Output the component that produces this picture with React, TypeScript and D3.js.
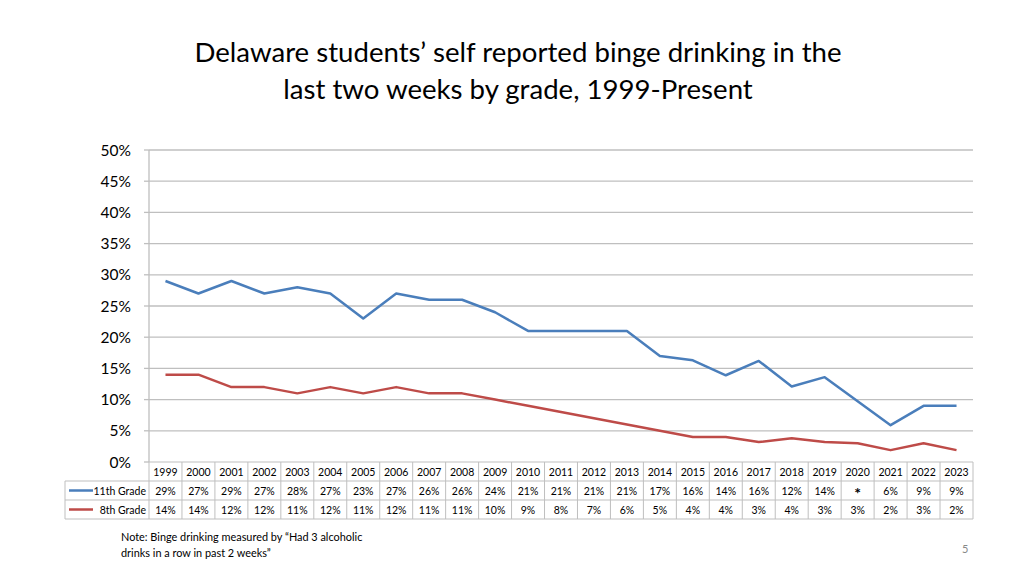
import React from "react";
import * as d3 from "d3";

const years = ["1999","2000","2001","2002","2003","2004","2005","2006","2007","2008","2009","2010","2011","2012","2013","2014","2015","2016","2017","2018","2019","2020","2021","2022","2023"];
const grade11 = [29,27,29,27,28,27,23,27,26,26,24,21,21,21,21,17,16.3,13.9,16.2,12.1,13.6,null,5.9,9,9];
const grade8 = [14,14,12,12,11,12,11,12,11,11,10,9,8,7,6,5,4,4,3.2,3.8,3.2,3,1.9,3,1.9];
const grade11Labels = ["29%","27%","29%","27%","28%","27%","23%","27%","26%","26%","24%","21%","21%","21%","21%","17%","16%","14%","16%","12%","14%","*","6%","9%","9%"];
const grade8Labels = ["14%","14%","12%","12%","11%","12%","11%","12%","11%","11%","10%","9%","8%","7%","6%","5%","4%","4%","3%","4%","3%","3%","2%","3%","2%"];
const yTicks = [0,5,10,15,20,25,30,35,40,45,50];
const seriesNames = ["11th Grade","8th Grade"];
const seriesColors = ["#4a7ebb","#be4b48"];

const W = 1024, H = 576;
const FONT = "Lato, 'Open Sans', sans-serif";

export default function App() {
  const left = 149, right = 973, top = 150, bottom = 462;
  const x = d3.scaleBand<string>().domain(years).range([left, right]);
  const y = d3.scaleLinear().domain([0, 50]).range([bottom, top]);
  const cx = (yr: string) => (x(yr) as number) + x.bandwidth() / 2;

  const line = d3.line<[string, number | null]>()
    .x(d => cx(d[0]))
    .y(d => y(d[1] as number));
  const pts11 = years.map((yr, i) => [yr, grade11[i]] as [string, number | null]).filter(d => d[1] !== null);
  const pts8 = years.map((yr, i) => [yr, grade8[i]] as [string, number | null]);

  const rowH = 19;
  const tTop = bottom;
  const legendLeft = 65;
  const gridColor = "#bfbfbf";
  const tableColor = "#bfbfbf";

  const rows = [grade11Labels, grade8Labels];

  return (
    <svg width={W} height={H} style={{ position: "absolute", left: 0, top: 0, background: "#fff" }} fontFamily={FONT}>
      <rect x={0} y={0} width={W} height={H} fill="#fff" />
      <text x={518} y={62} textAnchor="middle" fontSize={27.6} fill="#000">Delaware students’ self reported binge drinking in the</text>
      <text x={518} y={99} textAnchor="middle" fontSize={27.6} fill="#000">last two weeks by grade, 1999-Present</text>

      {yTicks.map(t => (
        <g key={t}>
          {t > 0 && <line x1={left} x2={right} y1={y(t)} y2={y(t)} stroke={gridColor} strokeWidth={1.3} />}
          <line x1={left - 5} x2={left} y1={y(t)} y2={y(t)} stroke={gridColor} strokeWidth={1.3} />
          <text x={131} y={y(t) + 5.5} textAnchor="end" fontSize={15.5} fill="#000">{t}%</text>
        </g>
      ))}
      <line x1={left} x2={left} y1={top} y2={bottom} stroke={gridColor} strokeWidth={1.3} />

      <path d={line(pts11) || ""} fill="none" stroke={seriesColors[0]} strokeWidth={2.5} strokeLinejoin="round" />
      <path d={line(pts8) || ""} fill="none" stroke={seriesColors[1]} strokeWidth={2.5} strokeLinejoin="round" />

      <g>
        <line x1={left} x2={right} y1={tTop} y2={tTop} stroke={tableColor} />
        <line x1={legendLeft} x2={right} y1={tTop + rowH} y2={tTop + rowH} stroke={tableColor} />
        <line x1={legendLeft} x2={right} y1={tTop + 2 * rowH} y2={tTop + 2 * rowH} stroke={tableColor} />
        <line x1={legendLeft} x2={right} y1={tTop + 3 * rowH} y2={tTop + 3 * rowH} stroke={tableColor} />
        <line x1={legendLeft} x2={legendLeft} y1={tTop + rowH} y2={tTop + 3 * rowH} stroke={tableColor} />
        {years.map(yr => (
          <line key={"v" + yr} x1={x(yr) as number} x2={x(yr) as number} y1={tTop} y2={tTop + 3 * rowH} stroke={tableColor} />
        ))}
        <line x1={right} x2={right} y1={tTop} y2={tTop + 3 * rowH} stroke={tableColor} />
        {years.map(yr => (
          <text key={"y" + yr} x={cx(yr)} y={tTop + 13.5} textAnchor="middle" fontSize={10.5} fill="#000">{yr}</text>
        ))}
        {rows.map((r, ri) => (
          <g key={"r" + ri}>
            <line x1={legendLeft + 4} x2={legendLeft + 28} y1={tTop + rowH * (ri + 1) + rowH / 2} y2={tTop + rowH * (ri + 1) + rowH / 2} stroke={seriesColors[ri]} strokeWidth={2.5} />
            <text x={left - 3} y={tTop + rowH * (ri + 1) + 13.5} textAnchor="end" fontSize={10.5} fill="#000">{seriesNames[ri]}</text>
            {r.map((v, i) => (
              <text key={i} x={cx(years[i])} y={tTop + rowH * (ri + 1) + (v === "*" ? 17.5 : 13.5)} textAnchor="middle" fontSize={v === "*" ? 16 : 10.5} fontWeight={v === "*" ? "bold" : "normal"} fill="#000">{v}</text>
            ))}
          </g>
        ))}
      </g>

      <text x={121} y={541} fontSize={10.9} fill="#000">Note: Binge drinking measured by “Had 3 alcoholic</text>
      <text x={121} y={557} fontSize={10.9} fill="#000">drinks in a row in past 2 weeks”</text>
      <text x={962} y={553} fontSize={11} fill="#888">5</text>
    </svg>
  );
}
